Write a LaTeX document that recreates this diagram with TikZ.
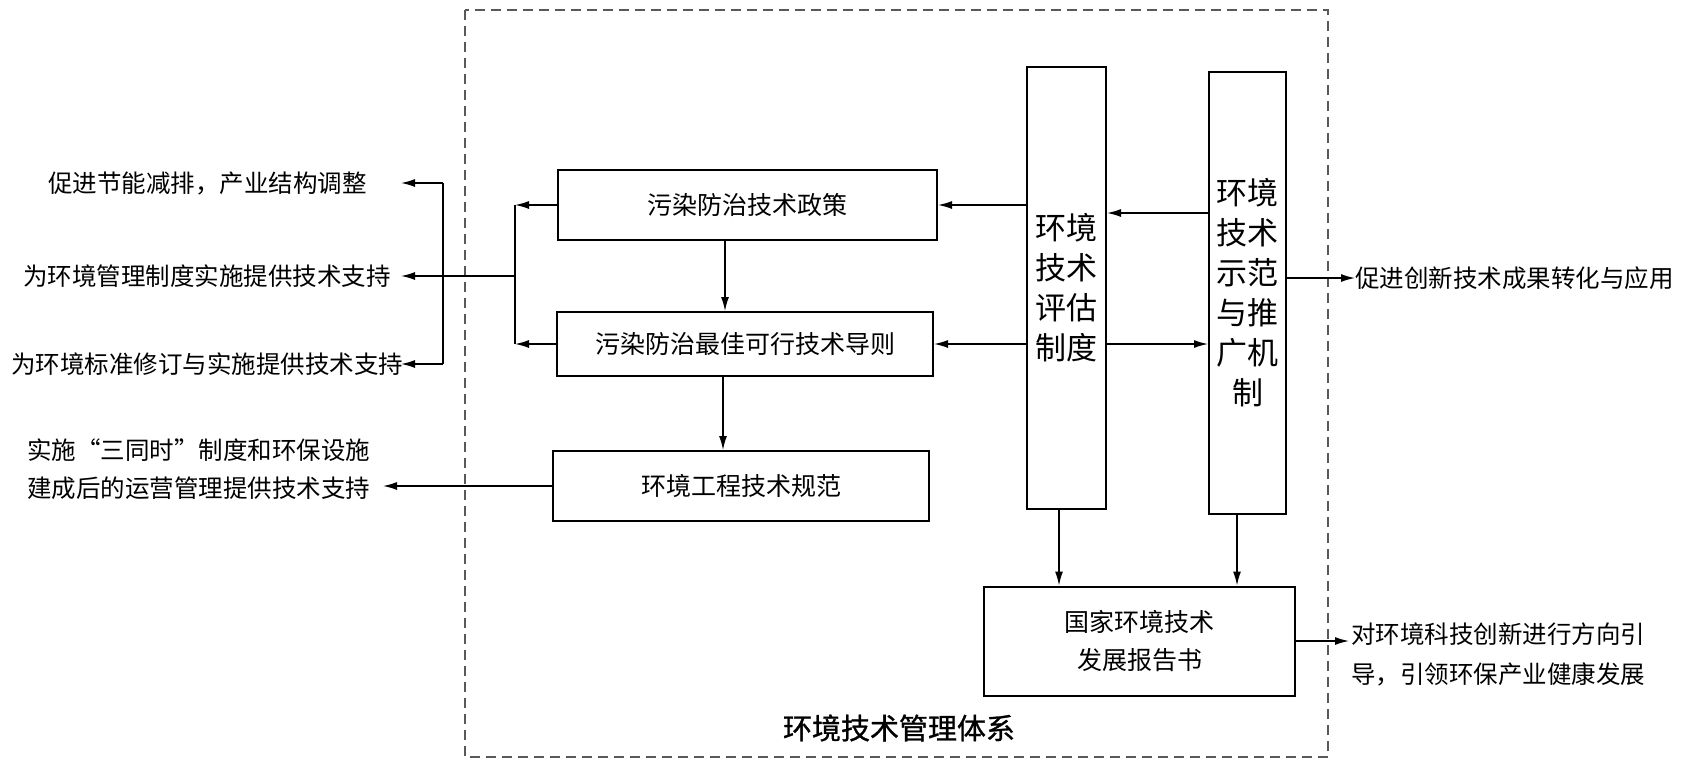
\documentclass[tikz,border=0pt]{standalone}
\usepackage{fontspec}
\newfontfamily\cjk{Noto Sans CJK SC}
\newfontfamily\cjktitle[FakeBold=1]{Noto Sans CJK SC}
\usetikzlibrary{arrows.meta}
\begin{document}
\begin{tikzpicture}[x=0.5pt,y=-0.5pt,
  box/.style={draw,line width=1pt,inner sep=0pt,align=center,font=\cjk\fontsize{12.5pt}{19pt}\selectfont},
  vbox/.style={box,font=\cjk\fontsize{15.5pt}{20pt}\selectfont},
  lbl/.style={inner sep=0pt,anchor=west,align=left,font=\cjk\fontsize{12.25pt}{19pt}\selectfont},
  conn/.style={line width=0.7pt},
  arr/.style={conn,-{Latex[length=7pt,width=4pt]}},
]
\useasboundingbox (0,0) rectangle (1686,762);
\draw[gray!70!black,line width=0.6pt,dash pattern=on 5pt off 3pt] (465,10) rectangle (1328,757);

% central boxes
\node[box,minimum width=189.5pt,minimum height=35pt] (b1) at (747.5,205) {污染防治技术政策};
\node[box,minimum width=188pt,minimum height=32pt] (b2) at (745,344) {污染防治最佳可行技术导则};
\node[box,minimum width=188pt,minimum height=35pt] (b3) at (741,486) {环境工程技术规范};
\node[vbox,minimum width=39.5pt,minimum height=221pt] (ev) at (1066.5,288) {环境\\技术\\评估\\制度};
\node[vbox,minimum width=38.5pt,minimum height=221pt] (dm) at (1247.5,293) {环境\\技术\\示范\\与推\\广机\\制};
\node[box,minimum width=155.5pt,minimum height=54.5pt] (rep) at (1139.5,641) {国家环境技术\\发展报告书};
\node[inner sep=0pt,font=\cjktitle\fontsize{14.5pt}{17pt}\selectfont] (title) at (899,728) {环境技术管理体系};

% outer texts
\node[lbl] (t1) at (48,183) {促进节能减排，产业结构调整};
\node[lbl] (t2) at (23,276) {为环境管理制度实施提供技术支持};
\node[lbl] (t3) at (11,364) {为环境标准修订与实施提供技术支持};
\node[lbl] (t4) at (27,469) {实施“三同时”制度和环保设施\\建成后的运营管理提供技术支持};
\node[lbl] (r1) at (1355,278) {促进创新技术成果转化与应用};
\node[lbl,font=\cjk\fontsize{12.25pt}{20pt}\selectfont] (r2) at (1351,654) {对环境科技创新进行方向引\\导，引领环保产业健康发展};

% helper coordinates
\coordinate (rbx) at (515,0);
\coordinate (lbx) at (443,0);
\coordinate (tipx) at (401,0);
\coordinate (tip4) at (383,0);
\coordinate (x1) at (725,0);
\coordinate (x2) at (723,0);
\coordinate (x3) at (1059,0);
\coordinate (x4) at (1237,0);
\coordinate (y1) at (0,213);
\coordinate (tipr) at (1349,0);

% left side connectors
\draw[arr] (b1.west) -- (b1.west -| rbx);
\draw[arr] (b2.west) -- (b2.west -| rbx);
\draw[conn] (b1.west -| rbx) -- (b2.west -| rbx);
\draw[arr] (t2 -| rbx) -- (t2 -| tipx);
\draw[conn] (t1 -| lbx) -- (t3 -| lbx);
\draw[arr] (t1 -| lbx) -- (t1 -| tipx);
\draw[arr] (t3 -| lbx) -- (t3 -| tipx);
\draw[arr] (b3.west) -- (b3.west -| tip4);

% vertical chain
\draw[arr] (b1.south -| x1) -- (b2.north -| x1);
\draw[arr] (b2.south -| x2) -- (b3.north -| x2);

% evaluation / demo connectors
\draw[arr] (ev.west |- b1.east) -- (b1.east);
\draw[arr] (ev.west |- b2.east) -- (b2.east);
\draw[arr] (dm.west |- y1) -- (ev.east |- y1);
\draw[arr] (ev.east |- b2.east) -- (dm.west |- b2.east);
\draw[arr] (dm.east |- r1.west) -- (r1.west);
\draw[arr] (ev.south -| x3) -- (rep.north -| x3);
\draw[arr] (dm.south -| x4) -- (rep.north -| x4);
\draw[arr] (rep.east) -- (rep.east -| tipr);
\end{tikzpicture}
\end{document}
